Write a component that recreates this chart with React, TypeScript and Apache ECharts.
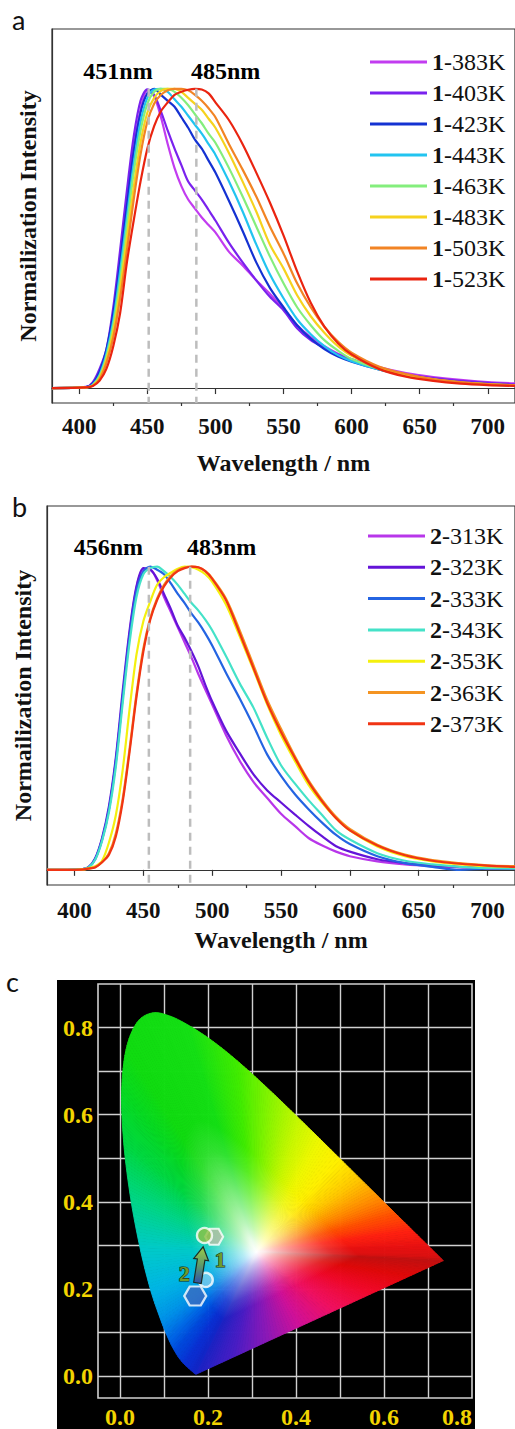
import React, { useEffect, useRef } from 'react';
import * as echarts from 'echarts';

const SERIF = 'Liberation Serif';

// ---------- Panel a / b spectra ----------
const WAVELENGTHS = [380, 405, 410, 415, 420, 425, 430, 435, 440, 445, 450, 455, 460, 465, 470, 475, 480, 485, 490, 495, 500, 510, 520, 530, 540, 550, 560, 570, 580, 590, 600, 620, 640, 660, 680, 700, 720];

const A_NAMES = ['1-383K', '1-403K', '1-423K', '1-443K', '1-463K', '1-483K', '1-503K', '1-523K'];
const A_383 = [0, 0.003, 0.015, 0.055, 0.12, 0.25, 0.43, 0.62, 0.8, 0.93, 0.995, 0.975, 0.905, 0.815, 0.735, 0.675, 0.63, 0.6, 0.57, 0.545, 0.52, 0.455, 0.41, 0.36, 0.315, 0.265, 0.21, 0.17, 0.14, 0.115, 0.097, 0.07, 0.05, 0.037, 0.027, 0.02, 0.016];
const A_403 = [0, 0.004, 0.02, 0.065, 0.13, 0.27, 0.46, 0.66, 0.84, 0.96, 0.998, 0.98, 0.925, 0.86, 0.8, 0.745, 0.69, 0.66, 0.63, 0.595, 0.56, 0.485, 0.42, 0.36, 0.305, 0.26, 0.2, 0.16, 0.135, 0.112, 0.095, 0.066, 0.046, 0.033, 0.024, 0.017, 0.012];
const A_423 = [0, 0.003, 0.015, 0.055, 0.13, 0.25, 0.42, 0.61, 0.79, 0.92, 0.985, 1.0, 0.98, 0.96, 0.94, 0.905, 0.87, 0.83, 0.8, 0.76, 0.72, 0.625, 0.525, 0.42, 0.335, 0.27, 0.21, 0.165, 0.13, 0.105, 0.088, 0.062, 0.042, 0.028, 0.019, 0.013, 0.009];
const A_443 = [0, 0.002, 0.012, 0.045, 0.115, 0.225, 0.39, 0.57, 0.75, 0.89, 0.97, 0.998, 1.0, 0.99, 0.965, 0.94, 0.91, 0.88, 0.85, 0.815, 0.78, 0.69, 0.59, 0.48, 0.38, 0.3, 0.23, 0.18, 0.14, 0.11, 0.09, 0.062, 0.042, 0.028, 0.018, 0.012, 0.008];
const A_463 = [0, 0.002, 0.01, 0.04, 0.105, 0.21, 0.36, 0.54, 0.72, 0.86, 0.95, 0.99, 1.0, 1.0, 0.99, 0.97, 0.945, 0.915, 0.885, 0.85, 0.82, 0.735, 0.64, 0.54, 0.44, 0.35, 0.27, 0.21, 0.16, 0.125, 0.097, 0.064, 0.043, 0.028, 0.018, 0.012, 0.008];
const A_483 = [0, 0.002, 0.008, 0.035, 0.095, 0.19, 0.33, 0.5, 0.67, 0.82, 0.92, 0.97, 0.993, 1.0, 1.0, 0.99, 0.97, 0.95, 0.93, 0.9, 0.87, 0.785, 0.69, 0.59, 0.48, 0.4, 0.31, 0.24, 0.185, 0.14, 0.108, 0.068, 0.045, 0.029, 0.019, 0.013, 0.009];
const A_503 = [0, 0.002, 0.008, 0.03, 0.085, 0.17, 0.3, 0.46, 0.63, 0.78, 0.89, 0.95, 0.98, 0.995, 1.0, 1.0, 0.995, 0.98, 0.96, 0.935, 0.905, 0.815, 0.73, 0.64, 0.54, 0.45, 0.35, 0.27, 0.205, 0.155, 0.118, 0.072, 0.047, 0.03, 0.02, 0.013, 0.009];
const A_523 = [0, 0.002, 0.007, 0.025, 0.065, 0.14, 0.25, 0.42, 0.56, 0.69, 0.8, 0.875, 0.925, 0.955, 0.98, 0.99, 0.997, 1.0, 0.998, 0.985, 0.955, 0.895, 0.815, 0.72, 0.62, 0.51, 0.39, 0.285, 0.205, 0.15, 0.112, 0.064, 0.038, 0.024, 0.015, 0.01, 0.007];
const A_VALUES = [A_383, A_403, A_423, A_443, A_463, A_483, A_503, A_523];
const A_COLORS = ['#c23cf0', '#7a22ee', '#1432d2', '#22c4f0', '#84ee7c', '#f6d21e', '#f28424', '#ea2410'];
const A_PEAK_NM = [451, 486];
const A_PEAK_TEXT = ['451nm', '485nm'];

const B_NAMES = ['2-313K', '2-323K', '2-333K', '2-343K', '2-353K', '2-363K', '2-373K'];
const B_313 = [0, 0.002, 0.008, 0.035, 0.1, 0.2, 0.36, 0.57, 0.78, 0.93, 0.99, 0.99, 0.955, 0.9, 0.85, 0.8, 0.75, 0.7, 0.645, 0.595, 0.545, 0.445, 0.36, 0.29, 0.237, 0.185, 0.145, 0.105, 0.08, 0.06, 0.045, 0.028, 0.018, 0.012, 0.008, 0.005, 0.004];
const B_323 = [0, 0.002, 0.008, 0.038, 0.105, 0.21, 0.37, 0.59, 0.79, 0.935, 0.995, 0.99, 0.96, 0.91, 0.86, 0.805, 0.765, 0.72, 0.67, 0.61, 0.555, 0.46, 0.385, 0.315, 0.262, 0.222, 0.183, 0.145, 0.11, 0.078, 0.06, 0.035, 0.022, 0.014, 0.01, 0.006, 0.005];
const B_333 = [0, 0.002, 0.008, 0.036, 0.1, 0.2, 0.355, 0.57, 0.77, 0.92, 0.985, 1.0, 0.99, 0.975, 0.945, 0.91, 0.88, 0.845, 0.815, 0.78, 0.74, 0.65, 0.565, 0.475, 0.38, 0.31, 0.25, 0.2, 0.155, 0.115, 0.085, 0.045, 0.022, 0.01, 0.0, 0.004, 0.004];
const B_343 = [0, 0.002, 0.007, 0.033, 0.095, 0.19, 0.34, 0.55, 0.75, 0.9, 0.975, 0.995, 1.0, 0.985, 0.965, 0.94, 0.91, 0.88, 0.855, 0.825, 0.79, 0.705, 0.615, 0.535, 0.435, 0.345, 0.285, 0.23, 0.18, 0.13, 0.1, 0.055, 0.03, 0.018, 0.01, 0.006, 0.005];
const B_353 = [0, 0.001, 0.005, 0.012, 0.03, 0.09, 0.18, 0.33, 0.53, 0.71, 0.82, 0.885, 0.94, 0.965, 0.98, 0.993, 1.0, 0.998, 0.99, 0.975, 0.95, 0.875, 0.77, 0.66, 0.545, 0.445, 0.36, 0.28, 0.22, 0.17, 0.13, 0.077, 0.045, 0.028, 0.018, 0.012, 0.009];
const B_363 = [0, 0.001, 0.004, 0.009, 0.025, 0.055, 0.12, 0.235, 0.4, 0.58, 0.73, 0.83, 0.895, 0.94, 0.97, 0.988, 0.997, 1.0, 0.997, 0.985, 0.962, 0.895, 0.79, 0.675, 0.56, 0.465, 0.375, 0.295, 0.23, 0.175, 0.135, 0.083, 0.05, 0.032, 0.022, 0.015, 0.012];
const B_373 = [0, 0.001, 0.004, 0.008, 0.025, 0.05, 0.11, 0.225, 0.39, 0.57, 0.72, 0.825, 0.89, 0.935, 0.965, 0.985, 0.995, 1.0, 0.998, 0.985, 0.96, 0.89, 0.78, 0.665, 0.55, 0.455, 0.37, 0.29, 0.225, 0.17, 0.13, 0.08, 0.048, 0.03, 0.02, 0.014, 0.01];
const B_VALUES = [B_313, B_323, B_333, B_343, B_353, B_363, B_373];
const B_COLORS = ['#b836ea', '#6414d8', '#2464e2', '#44e2c8', '#f4f00e', '#f49422', '#f03414'];
const B_PEAK_NM = [454, 484];
const B_PEAK_TEXT = ['456nm', '483nm'];

const MAJOR_TICKS = [400, 450, 500, 550, 600, 650, 700];
const MINOR_TICKS = [425, 475, 525, 575, 625, 675];

// ---------- Panel c: CIE 1931 spectral locus ----------
const LOCUS_NM = [380, 390, 400, 410, 420, 425, 430, 435, 440, 445, 450, 455, 460, 465, 470, 475, 480, 485, 490, 495, 500, 505, 510, 515, 520, 525, 530, 535, 540, 545, 550, 555, 560, 565, 570, 575, 580, 585, 590, 595, 600, 605, 610, 615, 620, 625, 630, 635, 640, 650, 660, 700];
const LOCUS_X = [0.1741, 0.1738, 0.1733, 0.1726, 0.1714, 0.1703, 0.1689, 0.1669, 0.1644, 0.1611, 0.1566, 0.151, 0.144, 0.1355, 0.1241, 0.1096, 0.0913, 0.0687, 0.0454, 0.0235, 0.0082, 0.0039, 0.0139, 0.0389, 0.0743, 0.1142, 0.1547, 0.1929, 0.2296, 0.2658, 0.3016, 0.3373, 0.3731, 0.4087, 0.4441, 0.4788, 0.5125, 0.5448, 0.5752, 0.6029, 0.627, 0.6482, 0.6658, 0.6801, 0.6915, 0.7006, 0.7079, 0.714, 0.719, 0.726, 0.73, 0.7347];
const LOCUS_Y = [0.005, 0.0049, 0.0048, 0.0048, 0.0051, 0.0058, 0.0069, 0.0086, 0.0109, 0.0138, 0.0177, 0.0227, 0.0297, 0.0399, 0.0578, 0.0868, 0.1327, 0.2007, 0.295, 0.4127, 0.5384, 0.6548, 0.7502, 0.812, 0.8338, 0.8262, 0.8059, 0.7816, 0.7543, 0.7243, 0.6923, 0.6589, 0.6245, 0.5896, 0.5547, 0.5202, 0.4866, 0.4544, 0.4242, 0.3965, 0.3725, 0.3514, 0.334, 0.3197, 0.3083, 0.2993, 0.292, 0.2859, 0.2809, 0.274, 0.27, 0.2653];
const C_TICKS = [0, 0.2, 0.4, 0.6, 0.8];
const C_GRID_X = [0, 0.1, 0.2, 0.3, 0.4, 0.5, 0.6, 0.7];
const C_GRID_Y = [0, 0.1, 0.2, 0.3, 0.4, 0.5, 0.6, 0.7, 0.8];
const C_X_RANGE = [-0.05, 0.8];
const C_Y_RANGE = [-0.05, 0.9];
const POINT_1 = [0.192, 0.323];
const POINT_1_HEX = [0.214, 0.32];
const POINT_2 = [0.171, 0.184];
const POINT_2_RING = [0.195, 0.221];
const ARROW = [0.176, 0.214, 0.189, 0.297];
const C_LABELS: [number, number, string][] = [[0.146, 0.236, '2'], [0.228, 0.268, '1']];

// colour styling for the chromaticity fill
const LOCUS_STOPS: [number, string][] = [[380, '#1a22c4'], [440, '#1026c8'], [460, '#0830d4'], [470, '#0048dc'], [475, '#0068e6'], [480, '#0094e8'], [485, '#00b6e4'], [490, '#00cac8'], [495, '#00d684'], [500, '#00d840'], [505, '#06da22'], [510, '#10dc10'], [530, '#14e014'], [545, '#40ec00'], [555, '#80f400'], [565, '#c8f800'], [572, '#f0f800'], [578, '#fff000'], [585, '#ffc800'], [592, '#ff9000'], [600, '#ff5000'], [610, '#ff2010'], [625, '#e81010'], [700, '#c01010']];
const PURPLE_STOPS: [number, string][] = [[0, '#1a22c4'], [0.15, '#4a1cc4'], [0.28, '#8818b8'], [0.42, '#d01098'], [0.56, '#f01060'], [0.72, '#f00828'], [0.86, '#e00808'], [1, '#c01010']];
const WHITE_PT = [0.31, 0.285];
const WHITE_RAMP = [0, 0.05, 0.12, 0.2, 0.3, 0.42, 0.55, 1];

const HEX = 'path://M0,10 L5.77,0 L17.32,0 L23.09,10 L17.32,20 L5.77,20 Z';

function hexToRgb(h: string) {
  const n = parseInt(h.slice(1), 16);
  return [(n >> 16) & 255, (n >> 8) & 255, n & 255];
}
function mix(a: number[], b: number[], t: number) {
  return [a[0] + (b[0] - a[0]) * t, a[1] + (b[1] - a[1]) * t, a[2] + (b[2] - a[2]) * t];
}
function stopColor(stops: [number, string][], v: number) {
  if (v <= stops[0][0]) return hexToRgb(stops[0][1]);
  for (let k = 0; k < stops.length - 1; k++) {
    const [a, ca] = stops[k];
    const [b, cb] = stops[k + 1];
    if (v <= b) return mix(hexToRgb(ca), hexToRgb(cb), (v - a) / (b - a));
  }
  return hexToRgb(stops[stops.length - 1][1]);
}
function rgbStr(c: number[]) {
  return `rgb(${Math.round(c[0])},${Math.round(c[1])},${Math.round(c[2])})`;
}
function catmull(p0: number[], p1: number[], p2: number[], p3: number[], t: number) {
  const t2 = t * t, t3 = t2 * t;
  return [0, 1].map((k) => 0.5 * (2 * p1[k] + (-p0[k] + p2[k]) * t + (2 * p0[k] - 5 * p1[k] + 4 * p2[k] - p3[k]) * t2 + (-p0[k] + 3 * p1[k] - 3 * p2[k] + p3[k]) * t3));
}

function gamutRenderItem(params: any, api: any) {
  const n = LOCUS_X.length;
  const pt = (k: number) => {
    const q = Math.max(0, Math.min(n - 1, k));
    return [LOCUS_X[q], LOCUS_Y[q]];
  };
  const i = params.dataIndex;
  const isPurple = i === n - 1;
  const p1 = pt(i);
  const p2 = isPurple ? pt(0) : pt(i + 1);
  const len = Math.hypot(p2[0] - p1[0], p2[1] - p1[1]);
  const s = Math.max(1, Math.ceil(len / 0.008));
  const edge = (u: number) => (isPurple ? [p1[0] + (p2[0] - p1[0]) * u, p1[1] + (p2[1] - p1[1]) * u] : catmull(pt(i - 1), p1, p2, pt(i + 2), u));
  const edgeColor = (u: number) => (isPurple ? stopColor(PURPLE_STOPS, 1 - u) : stopColor(LOCUS_STOPS, LOCUS_NM[i] + (LOCUS_NM[i + 1] - LOCUS_NM[i]) * u));
  const white = [255, 255, 255];
  const f = (t: number) => Math.pow(Math.min(1, Math.max(0, (t - 0.03) / 0.47)), 0.75);
  const w = api.coord(WHITE_PT);
  const children: any[] = [];
  for (let a = 0; a < s; a++) {
    const e0 = api.coord(edge(a / s));
    const e1 = api.coord(edge((a + 1) / s));
    const ec = edgeColor((a + 0.5) / s);
    const mx = (e0[0] + e1[0]) / 2, my = (e0[1] + e1[1]) / 2;
    const grad = new echarts.graphic.LinearGradient(
      w[0], w[1], mx, my,
      WHITE_RAMP.map((t) => ({ offset: t, color: rgbStr(mix(white, ec, f(t))) })),
      true
    );
    children.push({
      type: 'polygon',
      shape: { points: [w, e0, e1] },
      style: { fill: grad, stroke: grad, lineWidth: 0.9, lineJoin: 'round' },
      silent: true,
    });
  }
  return { type: 'group', children };
}

function arrowRenderItem(params: any, api: any) {
  const t = api.coord([api.value(0), api.value(1)]);
  const h = api.coord([api.value(2), api.value(3)]);
  const dx = h[0] - t[0], dy = h[1] - t[1];
  const L = Math.hypot(dx, dy);
  const ux = dx / L, uy = dy / L;
  const nx = -uy, ny = ux;
  const sw = 3.8, hw = 7.5, hl = 13;
  const bx = h[0] - ux * hl, by = h[1] - uy * hl;
  const pts = [
    [t[0] + nx * sw, t[1] + ny * sw],
    [bx + nx * sw, by + ny * sw],
    [bx + nx * hw, by + ny * hw],
    [h[0], h[1]],
    [bx - nx * hw, by - ny * hw],
    [bx - nx * sw, by - ny * sw],
    [t[0] - nx * sw, t[1] - ny * sw],
  ];
  return {
    type: 'polygon',
    shape: { points: pts },
    style: {
      fill: new echarts.graphic.LinearGradient(0, 0, 0, 1, [
        { offset: 0, color: '#9ccc48' },
        { offset: 0.5, color: '#5f9a6a' },
        { offset: 1, color: '#2f4fa8' },
      ]),
      stroke: '#1c2c24',
      lineWidth: 1.2,
    },
  };
}

function spectraSeries(names: string[], values: number[][], colors: string[], xi: number, yi: number) {
  return names.map((name, k) => ({
    name,
    type: 'line',
    xAxisIndex: xi,
    yAxisIndex: yi,
    data: WAVELENGTHS.map((w, q) => [w, values[k][q]]),
    showSymbol: false,
    smooth: 0.3,
    lineStyle: { color: colors[k], width: 2.2 },
    itemStyle: { color: colors[k] },
    z: 3 + k * 0.01,
  }));
}

function textSeries(data: any[], xi: number, yi: number, label: any, z: number) {
  return {
    type: 'scatter',
    xAxisIndex: xi,
    yAxisIndex: yi,
    data,
    symbolSize: 0.1,
    itemStyle: { color: '#fff', opacity: 1 },
    label: { show: true, position: 'inside', formatter: (p: any) => p.data[2], ...label },
    z,
    silent: true,
  };
}

function peakSeries(peaks: number[], texts: string[], textPos: number[][], xi: number, yi: number) {
  const out: any[] = peaks.map((p) => ({
    type: 'line',
    xAxisIndex: xi,
    yAxisIndex: yi,
    data: [[p, 1.0], [p, -0.05]],
    showSymbol: false,
    lineStyle: { color: '#bdbdbd', width: 2.5, type: [8, 6] },
    z: 4,
    silent: true,
  }));
  out.push(
    textSeries(
      texts.map((t, k) => [textPos[k][0], textPos[k][1], t]),
      xi,
      yi,
      { fontFamily: SERIF, fontWeight: 'bold', fontSize: 24, color: '#000' },
      5
    )
  );
  return out;
}

function legendFor(names: string[], left: number, top: number, gap: number, width: number) {
  return {
    orient: 'vertical',
    left,
    top,
    itemWidth: width,
    itemHeight: 3,
    itemGap: gap,
    icon: 'rect',
    selectedMode: false,
    data: names,
    formatter: (name: string) => {
      const [a, b] = name.split('-');
      return `{b|${a}}{r|-${b}}`;
    },
    textStyle: {
      fontFamily: SERIF,
      fontSize: 24,
      lineHeight: 24,
      color: '#111',
      rich: {
        b: { fontFamily: SERIF, fontSize: 24, lineHeight: 24, fontWeight: 'bold', color: '#111' },
        r: { fontFamily: SERIF, fontSize: 24, lineHeight: 24, fontWeight: 'normal', color: '#111' },
      },
    },
  };
}

const axisTextStyle = { fontFamily: SERIF, fontWeight: 'bold', fontSize: 24, color: '#111' };
const lineDark = { color: '#333', width: 1.2 };

function specXAxes(grid: number, labelMargin: number, nameGap: number) {
  return [
    {
      gridIndex: grid,
      type: 'value',
      min: 380,
      max: 720,
      position: 'bottom',
      axisLine: { show: true, lineStyle: lineDark },
      axisTick: { show: true, customValues: MAJOR_TICKS, length: 6, lineStyle: lineDark },
      axisLabel: { customValues: MAJOR_TICKS, margin: labelMargin, fontFamily: SERIF, fontWeight: 'bold', fontSize: 23, color: '#111' },
      splitLine: { show: false },
      name: 'Wavelength / nm',
      nameLocation: 'middle',
      nameGap,
      nameTextStyle: axisTextStyle,
    },
    {
      gridIndex: grid,
      type: 'value',
      min: 380,
      max: 720,
      position: 'bottom',
      axisLine: { show: false },
      axisTick: { show: true, customValues: MINOR_TICKS, length: 3, lineStyle: lineDark },
      axisLabel: { show: false },
      splitLine: { show: false },
    },
  ];
}

function specYAxis(grid: number) {
  return {
    gridIndex: grid,
    type: 'value',
    min: -0.05,
    max: 1.2,
    axisLine: { show: true, lineStyle: lineDark },
    axisTick: { show: false },
    axisLabel: { show: false },
    splitLine: { show: false },
    name: 'Normailization Intensity',
    nameLocation: 'middle',
    nameGap: 12,
    nameRotate: 90,
    nameTextStyle: axisTextStyle,
  };
}

export default function App() {
  const ref = useRef<HTMLDivElement>(null);
  useEffect(() => {
    if (!ref.current) return;
    const chart = echarts.init(ref.current, undefined, { renderer: 'svg' });
    const yellow = '#f2d400';
    const gridLines = [
      ...C_GRID_X.map((v) => ({ coords: [[v, C_Y_RANGE[0]], [v, C_Y_RANGE[1]]] })),
      ...C_GRID_Y.map((v) => ({ coords: [[C_X_RANGE[0], v], [C_X_RANGE[1], v]] })),
    ];
    const option: any = {
      animation: false,
      backgroundColor: '#fff',
      graphic: [
        { type: 'rect', shape: { x: 57, y: 980, width: 418, height: 449 }, style: { fill: '#000' }, z: -10, silent: true },
        { type: 'text', style: { text: 'a', x: 12, y: 33, verticalAlign: 'bottom', fontFamily: 'Lato', fontSize: 27, fill: '#111' } },
        { type: 'text', style: { text: 'b', x: 12, y: 520, verticalAlign: 'bottom', fontFamily: 'Lato', fontSize: 27, fill: '#111' } },
        { type: 'text', style: { text: 'c', x: 6, y: 995, verticalAlign: 'bottom', fontFamily: 'Lato', fontSize: 27, fill: '#111' } },
      ],
      grid: [
        { left: 52, top: 29, width: 465, height: 374, show: true, borderColor: '#333', borderWidth: 1.2, backgroundColor: 'transparent' },
        { left: 47, top: 506, width: 469, height: 379, show: true, borderColor: '#333', borderWidth: 1.2, backgroundColor: 'transparent' },
        { left: 98, top: 984, width: 374, height: 418, show: true, borderColor: '#d0d0d0', borderWidth: 1.6, backgroundColor: 'transparent' },
      ],
      legend: [legendFor(A_NAMES, 365, 45, 7, 57), legendFor(B_NAMES, 363, 519, 7.3, 57)],
      xAxis: [
        ...specXAxes(0, 12, 48),
        ...specXAxes(1, 14, 43),
        {
          gridIndex: 2,
          type: 'value',
          min: C_X_RANGE[0],
          max: C_X_RANGE[1],
          axisLine: { show: false },
          axisTick: { show: false },
          splitLine: { show: false },
          axisLabel: {
            customValues: C_TICKS,
            formatter: (v: number) => v.toFixed(1),
            margin: 7,
            fontFamily: SERIF,
            fontWeight: 'bold',
            fontSize: 24,
            color: yellow,
            alignMaxLabel: 'right',
          },
        },
      ],
      yAxis: [
        specYAxis(0),
        specYAxis(1),
        {
          gridIndex: 2,
          type: 'value',
          min: C_Y_RANGE[0],
          max: C_Y_RANGE[1],
          axisLine: { show: false },
          axisTick: { show: false },
          splitLine: { show: false },
          axisLabel: {
            customValues: C_TICKS,
            formatter: (v: number) => v.toFixed(1),
            margin: 5,
            fontFamily: SERIF,
            fontWeight: 'bold',
            fontSize: 24,
            color: yellow,
          },
        },
      ],
      series: [
        ...spectraSeries(A_NAMES, A_VALUES, A_COLORS, 0, 0),
        ...peakSeries(A_PEAK_NM, A_PEAK_TEXT, [[428.5, 1.058], [507.5, 1.058]], 0, 0),
        ...spectraSeries(B_NAMES, B_VALUES, B_COLORS, 2, 1),
        ...peakSeries(B_PEAK_NM, B_PEAK_TEXT, [[424.6, 1.066], [506.9, 1.066]], 2, 1),
        {
          type: 'lines',
          coordinateSystem: 'cartesian2d',
          xAxisIndex: 4,
          yAxisIndex: 2,
          data: gridLines,
          lineStyle: { color: '#d0d0d0', width: 1.4, opacity: 1 },
          silent: true,
          z: 1,
        },
        {
          type: 'custom',
          xAxisIndex: 4,
          yAxisIndex: 2,
          data: LOCUS_X.map((x, k) => [x, LOCUS_Y[k]]),
          encode: { x: 0, y: 1 },
          renderItem: gamutRenderItem,
          silent: true,
          z: 2,
        },
        {
          type: 'scatter',
          xAxisIndex: 4,
          yAxisIndex: 2,
          data: [POINT_1_HEX],
          symbol: HEX,
          symbolSize: [18, 16],
          itemStyle: { color: '#b6bea6', borderColor: '#fff', borderWidth: 2 },
          z: 5,
          silent: true,
        },
        {
          type: 'scatter',
          xAxisIndex: 4,
          yAxisIndex: 2,
          data: [POINT_2],
          symbol: HEX,
          symbolSize: [22, 19],
          itemStyle: { color: '#3a6cc0', borderColor: '#fff', borderWidth: 2.2 },
          z: 5,
          silent: true,
        },
        {
          type: 'scatter',
          xAxisIndex: 4,
          yAxisIndex: 2,
          data: [POINT_2_RING],
          symbol: 'circle',
          symbolSize: 14,
          itemStyle: { color: 'rgba(170,225,240,0.7)', borderColor: '#fff', borderWidth: 2.4 },
          z: 5,
          silent: true,
        },
        {
          type: 'custom',
          xAxisIndex: 4,
          yAxisIndex: 2,
          data: [ARROW],
          encode: { x: [0, 2], y: [1, 3] },
          renderItem: arrowRenderItem,
          z: 6,
          silent: true,
        },
        {
          type: 'scatter',
          xAxisIndex: 4,
          yAxisIndex: 2,
          data: [POINT_1],
          symbol: 'circle',
          symbolSize: 15,
          itemStyle: { color: '#8cc044', borderColor: '#fff', borderWidth: 2.4 },
          z: 7,
          silent: true,
        },
        textSeries(
          C_LABELS,
          4,
          2,
          { fontFamily: SERIF, fontWeight: 'bold', fontSize: 22, color: '#6e9a2c', textBorderColor: '#1c3010', textBorderWidth: 1.2 },
          8
        ),
      ],
    };
    chart.setOption(option);
    return () => chart.dispose();
  }, []);
  return <div ref={ref} style={{ position: 'absolute', left: 0, top: 0, width: 515, height: 1429 }} />;
}
